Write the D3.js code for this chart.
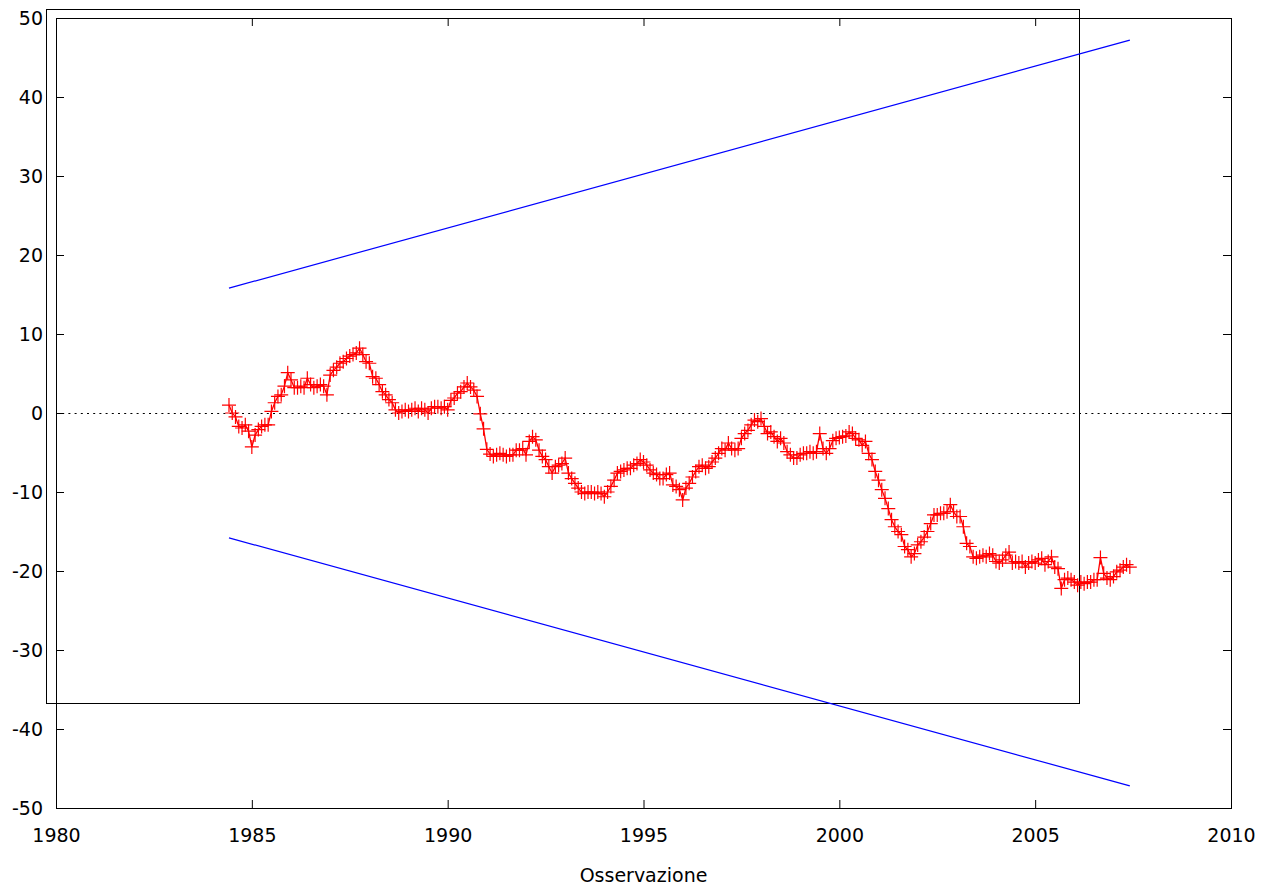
<!DOCTYPE html>
<html>
<head>
<meta charset="utf-8">
<script src="https://cdn.jsdelivr.net/npm/d3@7"></script>
<style>
  html, body { margin: 0; padding: 0; background: #fff; }
  svg { display: block; font-family: "DejaVu Sans", Verdana, sans-serif; }
</style>
</head>
<body>
<svg id="chart" width="1277" height="893"></svg>
<script>
// Monthly CUSUM observations, first one at June 1984 (time = year + monthIndex/12)
const startYear = 1984;
const startMonth = 6;
const cusum = [
  1.0, 0.0, -0.5, -1.7, -1.9, -1.5, -2.3, -4.3, -2.8, -2.1, -1.7, -1.5, -1.5, 0.2, 1.3, 2.1,
  2.3, 3.4, 5.1, 4.2, 3.2, 3.2, 3.4, 3.2, 4.4, 3.6, 3.2, 3.4, 3.6, 3.4, 2.3, 4.8,
  5.4, 5.8, 6.3, 6.5, 6.9, 7.2, 7.4, 7.6, 8.2, 7.4, 6.5, 6.3, 4.6, 4.4, 3.6, 2.7,
  2.3, 1.7, 1.3, 0.4, 0.0, 0.2, 0.4, 0.2, 0.4, 0.6, 0.2, 0.6, 0.4, 0.0, 0.6, 0.8,
  0.8, 0.6, 0.8, 0.4, 1.6, 1.9, 2.5, 2.7, 3.3, 3.8, 3.3, 2.9, 2.1, -0.1, -2.0, -4.6,
  -5.2, -5.5, -5.3, -5.1, -5.3, -5.5, -5.3, -5.3, -4.7, -4.7, -4.5, -5.3, -3.6, -3.0, -3.4, -4.7,
  -5.5, -5.9, -6.8, -7.6, -6.8, -6.6, -6.4, -5.7, -7.6, -8.3, -8.9, -9.5, -10.0, -10.2, -10.0, -10.0,
  -10.2, -10.0, -10.2, -10.6, -10.0, -9.3, -8.5, -7.6, -7.4, -7.2, -7.0, -7.0, -6.6, -6.4, -5.9, -6.2,
  -6.6, -7.2, -7.6, -7.8, -8.3, -8.3, -7.8, -7.6, -9.1, -9.3, -9.7, -11.0, -9.5, -8.9, -8.1, -7.4,
  -6.8, -6.6, -7.0, -6.8, -6.2, -5.7, -5.1, -4.5, -4.7, -3.8, -4.5, -4.7, -4.5, -3.2, -2.6, -2.2,
  -1.5, -0.9, -1.1, -0.7, -1.7, -2.6, -2.4, -3.0, -3.6, -3.2, -3.8, -4.9, -5.3, -5.7, -5.7, -5.3,
  -5.1, -5.1, -4.9, -5.1, -4.9, -2.6, -4.5, -5.1, -4.5, -3.5, -3.2, -3.1, -3.0, -2.9, -2.4, -2.6,
  -3.2, -3.4, -4.1, -3.6, -5.1, -5.9, -7.4, -8.5, -9.7, -10.8, -12.1, -13.5, -14.4, -15.0, -15.4, -16.9,
  -17.3, -18.2, -17.8, -16.7, -16.3, -15.7, -15.0, -14.0, -12.9, -12.9, -12.7, -12.7, -12.5, -11.6, -12.5, -13.1,
  -13.1, -14.4, -16.5, -16.9, -18.2, -18.4, -18.2, -18.0, -18.2, -17.8, -18.0, -18.8, -19.0, -18.6, -18.0, -17.6,
  -19.0, -18.8, -19.0, -18.8, -19.5, -19.0, -18.8, -19.0, -18.6, -18.4, -19.2, -18.8, -18.2, -19.5, -19.7, -22.2,
  -21.1, -20.9, -21.1, -21.4, -21.8, -21.4, -21.6, -21.4, -21.4, -21.1, -21.1, -18.3, -20.3, -20.9, -21.1, -20.7,
  -20.1, -19.9, -19.5, -19.2, -19.5
];

// Control limits: straight lines between the first and last observation
const upperLimit = [15.8, 47.2];
const lowerLimit = [-15.8, -47.2];

const xTicks = [1980, 1985, 1990, 1995, 2000, 2005, 2010];
const yTicks = [-50, -40, -30, -20, -10, 0, 10, 20, 30, 40, 50];
const xLabel = "Osservazione";

const dates = cusum.map((v, i) => startYear + (startMonth - 1 + i) / 12);
const series = cusum.map((v, i) => ({ t: dates[i], v }));
const tFirst = dates[0], tLast = dates[dates.length - 1];

const plotL = 56, plotR = 1231, plotT = 18, plotB = 808;
const svg = d3.select("#chart");

const x = d3.scaleLinear().domain([1980, 2010]).range([plotL, plotR]);
const y = d3.scaleLinear().domain([-50, 50]).range([plotB, plotT]);

const ink = "#000";
const fontSize = 19;
const plain = d => String(d);   // ASCII hyphen for negatives

// Axes with inward ticks on all four sides
const tick = 8;
const gB = svg.append("g").attr("transform", `translate(0,${plotB})`)
  .call(d3.axisBottom(x).tickValues(xTicks).tickFormat(plain).tickSizeInner(-tick).tickSizeOuter(0).tickPadding(21));
const gT = svg.append("g").attr("transform", `translate(0,${plotT})`)
  .call(d3.axisTop(x).tickValues(xTicks).tickFormat("").tickSizeInner(-tick).tickSizeOuter(0));
const gL = svg.append("g").attr("transform", `translate(${plotL},0)`)
  .call(d3.axisLeft(y).tickValues(yTicks).tickFormat(plain).tickSizeInner(-tick).tickSizeOuter(0).tickPadding(13));
const gR = svg.append("g").attr("transform", `translate(${plotR},0)`)
  .call(d3.axisRight(y).tickValues(yTicks).tickFormat("").tickSizeInner(-tick).tickSizeOuter(0));

[gB, gT, gL, gR].forEach(g => {
  g.select(".domain").remove();
  g.selectAll(".tick line").attr("stroke", ink).attr("stroke-width", 1);
  g.selectAll(".tick text").attr("fill", ink).attr("font-size", fontSize)
    .attr("font-family", "'DejaVu Sans', Verdana, sans-serif");
});
// ticks at the corners sit on the frame
gB.selectAll(".tick").filter(d => d === 1980 || d === 2010).select("line").remove();
gT.selectAll(".tick").filter(d => d === 1980 || d === 2010).select("line").remove();
gL.selectAll(".tick").filter(d => d === -50 || d === 50).select("line").remove();
gR.selectAll(".tick").filter(d => d === -50 || d === 50).select("line").remove();
gL.selectAll(".tick text").attr("dy", "0.36em");

// Plot frame
svg.append("rect")
  .attr("x", plotL + 0.5).attr("y", plotT + 0.5)
  .attr("width", plotR - plotL).attr("height", plotB - plotT)
  .attr("fill", "none").attr("stroke", ink).attr("stroke-width", 1);

// Secondary box
svg.append("rect")
  .attr("x", 46.5).attr("y", 9.5)
  .attr("width", 1079 - 46).attr("height", 703 - 9)
  .attr("fill", "none").attr("stroke", ink).attr("stroke-width", 1);

// Zero reference line
svg.append("line")
  .attr("x1", plotL).attr("x2", plotR)
  .attr("y1", y(0) + 0.5).attr("y2", y(0) + 0.5)
  .attr("stroke", ink).attr("stroke-width", 1)
  .attr("stroke-dasharray", "2,4.2");

// Control limit lines
[upperLimit, lowerLimit].forEach(lim => {
  svg.append("line")
    .attr("x1", x(tFirst)).attr("y1", y(lim[0]))
    .attr("x2", x(tLast)).attr("y2", y(lim[1]))
    .attr("stroke", "#0000ff").attr("stroke-width", 1.2);
});

// CUSUM line and point markers
const line = d3.line().x(d => x(d.t)).y(d => y(d.v));
svg.append("path")
  .datum(series)
  .attr("d", line)
  .attr("fill", "none").attr("stroke", "#ff0000").attr("stroke-width", 1.3);

const s = 7;
svg.append("g").selectAll("path")
  .data(series).join("path")
  .attr("transform", d => `translate(${x(d.t)},${y(d.v)})`)
  .attr("d", `M${-s},0H${s}M0,${-s}V${s}`)
  .attr("stroke", "#ff0000").attr("stroke-width", 1.2).attr("fill", "none");

// Axis title
svg.append("text")
  .attr("x", (plotL + plotR) / 2).attr("y", 882)
  .attr("text-anchor", "middle")
  .attr("font-size", fontSize).attr("fill", ink)
  .text(xLabel);
</script>
</body>
</html>
